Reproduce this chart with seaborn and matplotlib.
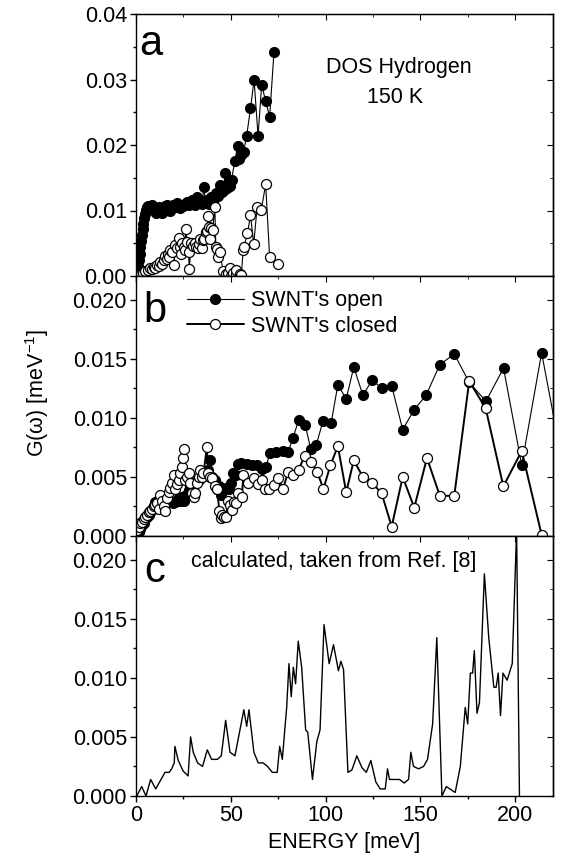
import numpy as np
import pandas as pd
import matplotlib
matplotlib.use("Agg")
import matplotlib.pyplot as plt
import seaborn as sns
from matplotlib.lines import Line2D
from matplotlib.ticker import MultipleLocator, FormatStrFormatter

# ---- panel a : DOS hydrogen 150 K ----
a_open_e = [0.3, 0.7, 1.1, 1.5, 1.9, 2.3, 2.7, 3.1, 3.5, 3.9, 4.3, 4.7, 5.1, 5.6,
            6.2, 6.9, 7.6, 8.3, 9.0, 9.8, 10.6, 11.4, 12.2, 13.0, 13.8, 14.6, 15.4,
            16.2, 17.0, 17.8, 18.7, 19.6, 20.5, 21.4, 22.3, 23.2, 24.1, 25.0, 25.9,
            26.8, 27.7, 28.6, 29.5, 30.4, 31.3, 32.2, 33.1, 34.0, 34.9, 35.8, 36.7,
            37.6, 38.5, 39.4, 40.3, 41.2, 42.1, 43.0, 44.2, 45.2, 46.3, 47.0, 48.0,
            48.8, 49.6, 50.4, 52.1, 53.6, 54.6, 55.6, 56.8, 58.4, 60.4, 62.3, 64.4,
            66.3, 68.4, 70.5, 72.8]
a_open_g = [0.0000, 0.0008, 0.0016, 0.0025, 0.0034, 0.0044, 0.0053, 0.0062, 0.0071,
            0.0080, 0.0088, 0.0095, 0.0101, 0.0105,
            0.0107, 0.0105, 0.0103, 0.0108, 0.0104, 0.0099, 0.0096, 0.0103, 0.0106,
            0.0097, 0.0096, 0.0104, 0.0107, 0.0108, 0.0103, 0.0100, 0.0105, 0.0108,
            0.0106, 0.0112, 0.0106, 0.0104, 0.0108, 0.0107, 0.0110, 0.0113, 0.0108,
            0.0110, 0.0116, 0.0110, 0.0108, 0.0121, 0.0113, 0.0116, 0.0110, 0.0136,
            0.0112, 0.0116, 0.0110, 0.0120, 0.0112, 0.0118, 0.0126, 0.0122, 0.0139,
            0.0128, 0.0131, 0.0158, 0.0135, 0.0142, 0.0137, 0.0147, 0.0175, 0.0198,
            0.0178, 0.0184, 0.0190, 0.0214, 0.0256, 0.0299, 0.0214, 0.0292, 0.0267,
            0.0243, 0.0342]

a_closed_e = [0.4, 1.4, 2.5, 3.6, 4.9, 6.2, 7.5, 8.4, 9.3, 10.2, 11.1, 12.0, 12.8,
              13.7, 14.6, 15.4, 16.1, 16.8, 17.5, 18.1, 18.9, 19.8, 20.7, 21.6, 22.5,
              23.2, 23.9, 24.5, 25.1, 25.7, 26.3, 27.0, 27.7, 28.1, 29.1, 30.2, 31.2,
              31.9, 32.6, 33.3, 33.9, 34.7, 35.4, 36.1, 36.9, 37.2, 38.1, 38.6, 39.0,
              39.8, 40.4, 41.6, 42.1, 42.5, 43.3, 44.2, 46.0, 47.7, 48.5, 49.5, 50.3,
              51.2, 52.9, 53.0, 54.7, 55.6, 56.5, 57.0, 58.8, 60.4, 62.1, 63.9, 66.1,
              68.4, 70.5, 75.1]
a_closed_g = [0.0000, 0.0001, 0.0003, 0.0005, 0.0007, 0.0009, 0.0012, 0.0010, 0.0014,
              0.0012, 0.0017, 0.0015, 0.0022, 0.0019, 0.0024, 0.0030, 0.0026, 0.0034,
              0.0029, 0.0040, 0.0036, 0.0017, 0.0048, 0.0042, 0.0058, 0.0045, 0.0034,
              0.0050, 0.0045, 0.0040, 0.0071, 0.0052, 0.0037, 0.0010, 0.0050, 0.0046,
              0.0050, 0.0044, 0.0042, 0.0049, 0.0056, 0.0042, 0.0055, 0.0056, 0.0067,
              0.0068, 0.0091, 0.0075, 0.0057, 0.0073, 0.0070, 0.0105, 0.0045, 0.0041,
              0.0029, 0.0037, 0.0007, 0.0003, 0.0005, 0.0012, 0.0000, 0.0004, 0.0003,
              0.0009, 0.0003, 0.0001, 0.0039, 0.0045, 0.0065, 0.0093, 0.0049, 0.0105,
              0.0101, 0.0140, 0.0029, 0.0018]

# ---- panel b : SWNT open / closed ----
b_open_e = [0.4, 1.4, 2.3, 3.2, 4.1, 4.9, 5.8, 6.7, 7.6, 8.4, 9.3, 10.2, 11.0, 11.9,
            12.8, 13.7, 14.6, 15.4, 16.8, 18.2, 19.5, 20.7, 22.0, 23.3, 24.2, 25.1,
            26.4, 27.7, 28.6, 29.5, 31.2, 33.0, 34.3, 35.6, 36.9, 38.2, 39.2, 40.1,
            41.8, 42.8, 43.9, 44.9, 46.1, 47.5, 48.9, 50.2, 51.4, 52.8, 54.0, 55.4,
            58.4, 61.0, 63.6, 66.3, 68.5, 70.6, 74.1, 77.6, 80.2, 82.8, 85.8, 89.3,
            92.1, 95.1, 98.6, 103.0, 106.5, 110.9, 114.9, 119.7, 124.6, 129.6, 134.9,
            140.7, 146.8, 153.0, 160.3, 167.9, 175.8, 184.6, 193.9, 203.5, 214.0, 224.0]
b_open_g = [0.0001, 0.0003, 0.0006, 0.0009, 0.0011, 0.0014, 0.0016, 0.0018, 0.0020,
            0.0022, 0.0025, 0.0029, 0.0027, 0.0030, 0.0031, 0.0032, 0.0030, 0.0033,
            0.0031, 0.0030, 0.0028, 0.0029, 0.0031, 0.0030, 0.0033, 0.0030, 0.0035,
            0.0039, 0.0042, 0.0045, 0.0046, 0.0047, 0.0050, 0.0054, 0.0055, 0.0056,
            0.0064, 0.0050, 0.0047, 0.0040, 0.0042, 0.0035, 0.0039, 0.0041, 0.0040,
            0.0045, 0.0053, 0.0052, 0.0061, 0.0062, 0.0061, 0.0060, 0.0060, 0.0057,
            0.0058, 0.0070, 0.0071, 0.0072, 0.0071, 0.0083, 0.0098, 0.0094, 0.0074,
            0.0077, 0.0097, 0.0096, 0.0128, 0.0116, 0.0143, 0.0119, 0.0132, 0.0125,
            0.0127, 0.0090, 0.0107, 0.0119, 0.0145, 0.0154, 0.0130, 0.0114, 0.0142,
            0.0060, 0.0155, 0.0070]

b_closed_e = [0.5, 1.4, 2.3, 3.1, 4.0, 4.9, 5.8, 6.6, 7.5, 8.4, 9.3, 10.2, 11.0,
              11.9, 12.8, 13.7, 14.6, 15.4, 16.3, 17.2, 18.0, 18.9, 19.8, 20.7, 21.6,
              22.5, 23.3, 24.2, 24.6, 25.1, 26.0, 26.9, 27.7, 28.6, 29.5, 30.4, 31.3,
              32.1, 33.0, 33.9, 34.8, 35.6, 37.4, 38.2, 39.1, 40.0, 41.8, 42.9, 43.9,
              44.6, 45.3, 46.4, 47.4, 48.8, 49.7, 50.5, 51.6, 52.6, 54.0, 55.8, 56.7,
              59.3, 62.2, 64.2, 66.3, 68.0, 70.3, 72.7, 75.0, 77.6, 80.2, 82.8, 85.8,
              89.0, 92.5, 95.6, 98.9, 102.6, 106.5, 110.9, 114.9, 119.7, 124.6, 129.6,
              134.9, 140.7, 146.8, 153.5, 160.3, 167.9, 175.8, 184.5, 193.8, 203.5,
              214.0]
b_closed_g = [0.0005, 0.0008, 0.0011, 0.0012, 0.0014, 0.0016, 0.0018, 0.0020, 0.0021,
              0.0023, 0.0025, 0.0026, 0.0028, 0.0023, 0.0035, 0.0030, 0.0025, 0.0021,
              0.0032, 0.0037, 0.0041, 0.0045, 0.0052, 0.0040, 0.0044, 0.0047, 0.0053,
              0.0058, 0.0066, 0.0074, 0.0047, 0.0050, 0.0053, 0.0045, 0.0036, 0.0033,
              0.0036, 0.0045, 0.0050, 0.0056, 0.0050, 0.0053, 0.0075, 0.0053, 0.0050,
              0.0049, 0.0042, 0.0040, 0.0021, 0.0015, 0.0018, 0.0016, 0.0016, 0.0030,
              0.0026, 0.0022, 0.0029, 0.0028, 0.0036, 0.0033, 0.0052, 0.0045, 0.0049,
              0.0044, 0.0047, 0.0040, 0.0040, 0.0043, 0.0049, 0.0040, 0.0054, 0.0052,
              0.0056, 0.0068, 0.0063, 0.0054, 0.0040, 0.0060, 0.0076, 0.0037, 0.0064,
              0.0050, 0.0045, 0.0036, 0.0008, 0.0050, 0.0024, 0.0066, 0.0034, 0.0034,
              0.0131, 0.0108, 0.0042, 0.0072, 0.0001]

# ---- panel c : calculated (Ref. [8]) ----
c_e = [0.4, 3.0, 5.3, 7.7, 10.4, 15.3, 17.5, 18.8, 20.2, 20.5, 22.3, 24.9, 27.5,
       28.8, 30.2, 32.5, 35.1, 37.6, 39.9, 42.9, 45.0, 47.3, 49.6, 52.2, 56.9, 58.4,
       59.6, 62.2, 64.5, 67.1, 69.4, 71.9, 74.5, 75.8, 77.2, 78.6, 79.5, 80.7, 81.9,
       83.0, 84.2, 85.6, 87.4, 89.5, 90.6, 93.1, 95.4, 97.1, 99.2, 101.9, 104.2,
       106.8, 108.1, 109.5, 111.8, 113.9, 116.5, 119.2, 121.5, 123.9, 126.5, 128.8,
       131.5, 132.7, 133.7, 139.0, 141.5, 143.8, 145.0, 146.4, 149.1, 151.7, 153.8,
       156.5, 158.7, 161.4, 163.7, 168.4, 171.1, 173.7, 175.0, 176.4, 177.6, 178.5,
       179.9, 181.2, 183.8, 186.1, 188.8, 190.0, 191.1, 192.3, 193.6, 195.8, 198.5,
       200.8, 202.3]
c_g = [0.0000, 0.0008, 0.0000, 0.0014, 0.0006, 0.0020, 0.0020, 0.0023, 0.0028, 0.0042,
       0.0030, 0.0021, 0.0017, 0.0050, 0.0037, 0.0028, 0.0025, 0.0039, 0.0031, 0.0031,
       0.0034, 0.0064, 0.0037, 0.0034, 0.0073, 0.0059, 0.0073, 0.0037, 0.0028, 0.0028,
       0.0025, 0.0020, 0.0020, 0.0042, 0.0031, 0.0058, 0.0075, 0.0112, 0.0084, 0.0109,
       0.0095, 0.0131, 0.0109, 0.0056, 0.0054, 0.0014, 0.0046, 0.0056, 0.0145, 0.0112,
       0.0128, 0.0106, 0.0114, 0.0107, 0.0020, 0.0022, 0.0034, 0.0024, 0.0020, 0.0030,
       0.0012, 0.0006, 0.0006, 0.0023, 0.0014, 0.0014, 0.0011, 0.0014, 0.0037, 0.0025,
       0.0023, 0.0025, 0.0031, 0.0061, 0.0134, 0.0000, 0.0008, 0.0003, 0.0025, 0.0075,
       0.0061, 0.0104, 0.0104, 0.0123, 0.0070, 0.0079, 0.0188, 0.0134, 0.0092, 0.0092,
       0.0104, 0.0068, 0.0104, 0.0098, 0.0112, 0.0225, 0.0000]

sns.set_style("ticks")
plt.rcParams['font.family'] = ['Liberation Sans', 'DejaVu Sans']
plt.rcParams['mathtext.fontset'] = 'custom'
plt.rcParams['mathtext.rm'] = 'Liberation Sans'
for k in ('text.color', 'axes.labelcolor', 'xtick.color', 'ytick.color', 'axes.edgecolor'):
    plt.rcParams[k] = 'black'
FS = 15.5

fig = plt.figure(figsize=(5.61, 8.65), dpi=100)
L, R = 136 / 561, 553 / 561
tops = [14, 276, 536]
bots = [276, 536, 796]
axes = []
for t, b in zip(tops, bots):
    axes.append(fig.add_axes([L, 1 - b / 865, R - L, (b - t) / 865]))
ax_a, ax_b, ax_c = axes

filled = dict(marker='o', markersize=7.2, markerfacecolor='black', markeredgecolor='black',
              markeredgewidth=0.8, color='black')
hollow = dict(marker='o', markersize=7.2, markerfacecolor='white', markeredgecolor='black',
              markeredgewidth=0.9, color='black')


def draw(ax, e, g, lw, style):
    df = pd.DataFrame({'e': e, 'g': g})
    sns.lineplot(data=df, x='e', y='g', ax=ax, estimator=None, sort=False,
                 linewidth=lw, clip_on=True, **style)


draw(ax_a, a_open_e, a_open_g, 0.8, filled)
draw(ax_a, a_closed_e, a_closed_g, 0.8, hollow)
draw(ax_b, b_open_e, b_open_g, 0.8, filled)
draw(ax_b, b_closed_e, b_closed_g, 1.4, hollow)
sns.lineplot(x=c_e, y=c_g, ax=ax_c, color='black', linewidth=1.0, estimator=None, sort=False)

for ax in axes:
    ax.set_xlim(0, 220)
    ax.xaxis.set_major_locator(MultipleLocator(50))
    ax.xaxis.set_minor_locator(MultipleLocator(25))
    ax.set_xlabel('')
    ax.set_ylabel('')
    for s in ax.spines.values():
        s.set_visible(True)
        s.set_linewidth(1.0)
        s.set_color('black')
    ax.tick_params(which='both', direction='out', top=False, right=False,
                   labelsize=FS, colors='black', width=1.0)
    ax.tick_params(which='major', length=4.5, pad=2)
    ax.tick_params(which='minor', length=2.5)
    # inward ticks on top / right
    twin = ax.secondary_yaxis('right')
    twin.tick_params(which='both', direction='in', labelright=False, colors='black')
    twin.tick_params(which='major', length=4.5)
    twin.tick_params(which='minor', length=2.5)
    twin.spines['right'].set_linewidth(1.0)
    twx = ax.secondary_xaxis('top')
    twx.tick_params(which='both', direction='in', labeltop=False, colors='black')
    twx.tick_params(which='major', length=4.5)
    twx.tick_params(which='minor', length=2.5)
    twx.xaxis.set_major_locator(MultipleLocator(50))
    twx.xaxis.set_minor_locator(MultipleLocator(25))
    ax._twins = (twx, twin)

ax_a.set_ylim(0, 0.04)
ax_a.yaxis.set_major_locator(MultipleLocator(0.01))
ax_a.yaxis.set_minor_locator(MultipleLocator(0.005))
ax_a.yaxis.set_major_formatter(FormatStrFormatter('%.2f'))
for ax in (ax_b, ax_c):
    ax.set_ylim(0, 0.022)
    ax.yaxis.set_major_locator(MultipleLocator(0.005))
    ax.yaxis.set_minor_locator(MultipleLocator(0.0025))
    ax.yaxis.set_major_formatter(FormatStrFormatter('%.3f'))
for ax in axes:
    twx, twin = ax._twins
    twin.yaxis.set_major_locator(ax.yaxis.get_major_locator())
    twin.yaxis.set_minor_locator(ax.yaxis.get_minor_locator())
for ax in (ax_a, ax_b):
    ax.tick_params(labelbottom=False)

ax_c.set_xlabel('ENERGY [meV]', fontsize=FS, labelpad=4, color='black')
fig.text(37 / 561, 1 - 393 / 865, 'G(ω) [meV$^{\\mathregular{-1}}$]', rotation=90,
         ha='center', va='center', fontsize=FS, color='black')

ax_a.text(0.008, 0.844, 'a', transform=ax_a.transAxes, fontsize=30, va='baseline')
ax_b.text(0.017, 0.824, 'b', transform=ax_b.transAxes, fontsize=30, va='baseline')
ax_c.text(0.02, 0.824, 'c', transform=ax_c.transAxes, fontsize=30, va='baseline')
ax_a.text(0.63, 0.776, 'DOS Hydrogen', transform=ax_a.transAxes, fontsize=FS,
          ha='center', va='baseline')
ax_a.text(0.621, 0.659, '150 K', transform=ax_a.transAxes, fontsize=FS,
          ha='center', va='baseline')
ax_c.text(0.132, 0.882, 'calculated, taken from Ref. [8]', transform=ax_c.transAxes,
          fontsize=FS, va='baseline')

handles = [Line2D([], [], linewidth=0.8, **filled), Line2D([], [], linewidth=1.4, **hollow)]
ax_b.legend(handles, ["SWNT's open", "SWNT's closed"], loc='upper left',
            bbox_to_anchor=(0.122, 0.945), frameon=False, fontsize=FS, borderpad=0,
            borderaxespad=0, handlelength=2.65, handletextpad=0.35, labelspacing=0.2)

fig.savefig('out.png', dpi=100)
